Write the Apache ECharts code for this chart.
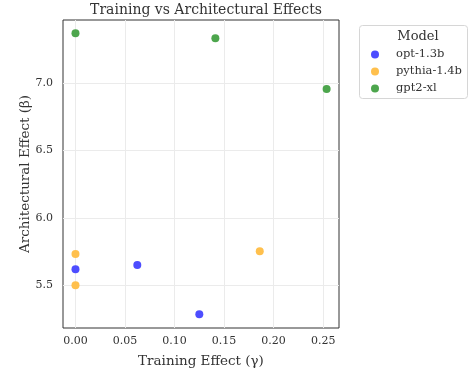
<!DOCTYPE html>
<html><head><meta charset="utf-8">
<script src="https://cdn.jsdelivr.net/npm/echarts@6/dist/echarts.min.js"></script>
<style>html,body{margin:0;padding:0;background:#fff}#c{width:475px;height:378px}</style>
</head><body><div id="c"></div>
<script>
const models = ['opt-1.3b', 'pythia-1.4b', 'gpt2-xl'];
const colors = ['#4d4dff', '#ffc04d', '#4da64d'];
const optGamma = [0.0, 0.0624, 0.125];
const optBeta = [5.619, 5.650, 5.285];
const pythiaGamma = [0.0, 0.0, 0.186];
const pythiaBeta = [5.732, 5.500, 5.752];
const gpt2Gamma = [0.0, 0.1412, 0.2535];
const gpt2Beta = [7.368, 7.331, 6.956];
const xTicks = [0.00, 0.05, 0.10, 0.15, 0.20, 0.25];
const yTicks = [5.5, 6.0, 6.5, 7.0];

const FONT = 'DejaVu Serif';
const TXT = '#333';
function pairs(xs, ys) { return xs.map((x, i) => [x, ys[i]]); }
const seriesData = [pairs(optGamma, optBeta), pairs(pythiaGamma, pythiaBeta), pairs(gpt2Gamma, gpt2Beta)];
function near(v, arr) { return arr.some(t => Math.abs(t - v) < 1e-6); }

const chart = echarts.init(document.getElementById('c'), null, {renderer: 'canvas'});
chart.setOption({
  animation: false,
  textStyle: {fontFamily: FONT},
  title: [
    {text: 'Training vs Architectural Effects', left: 201, top: -2, textAlign: 'center',
     textStyle: {fontFamily: FONT, fontSize: 14, fontWeight: 'normal', color: TXT}},
    {text: 'Model', left: 413, top: 25, textAlign: 'center',
     textStyle: {fontFamily: FONT, fontSize: 13, fontWeight: 'normal', color: TXT}}
  ],
  graphic: [{type: 'rect', left: 359, top: 25, shape: {width: 108, height: 73, r: 3},
    style: {fill: '#fff', stroke: '#d6d6d6', lineWidth: 1}, z: 0}],
  legend: {
    orient: 'vertical', left: 371, top: 48, padding: 0, itemWidth: 8, itemHeight: 8, itemGap: 4,
    icon: 'circle', data: models, z: 10,
    textStyle: {fontFamily: FONT, fontSize: 11.5, color: TXT, padding: [0, 0, 0, 12], lineHeight: 13}
  },
  grid: {left: 63, right: 136, top: 20, bottom: 50, show: true, borderColor: '#333', borderWidth: 1},
  xAxis: {
    type: 'value', min: -0.0126, max: 0.266,
    name: 'Training Effect (γ)', nameLocation: 'middle', nameGap: 26, nameMoveOverlap: false,
    nameTextStyle: {fontFamily: FONT, fontSize: 13.5, color: TXT},
    axisLine: {show: false}, axisTick: {show: false},
    axisLabel: {fontFamily: FONT, fontSize: 11, color: TXT, margin: 8, showMinLabel: false, showMaxLabel: false,
      formatter: v => near(v, xTicks) ? v.toFixed(2) : ''},
    splitLine: {show: true, showMinLine: false, showMaxLine: false, lineStyle: {color: '#ebebeb', width: 1}}
  },
  yAxis: {
    type: 'value', min: 5.183, max: 7.467,
    name: 'Architectural Effect (β)', nameLocation: 'middle', nameGap: 31, nameRotate: 90, nameMoveOverlap: false,
    nameTextStyle: {fontFamily: FONT, fontSize: 13.5, color: TXT},
    axisLine: {show: false}, axisTick: {show: false},
    axisLabel: {fontFamily: FONT, fontSize: 11, color: TXT, margin: 10, showMinLabel: false, showMaxLabel: false,
      formatter: v => near(v, yTicks) ? v.toFixed(1) : ''},
    splitLine: {show: true, showMinLine: false, showMaxLine: false, lineStyle: {color: '#ebebeb', width: 1}}
  },
  series: models.map((m, i) => ({
    name: m, type: 'scatter', symbolSize: 8, data: seriesData[i],
    itemStyle: {color: colors[i], opacity: 1}
  }))
});
</script></body></html>
